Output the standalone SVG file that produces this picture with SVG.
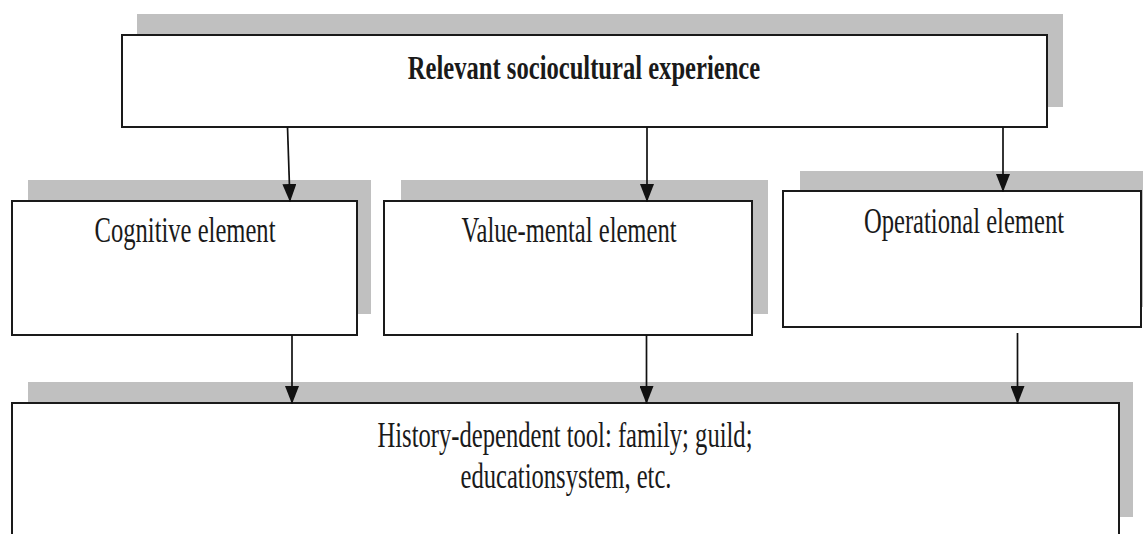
<svg xmlns="http://www.w3.org/2000/svg" width="1143" height="534" viewBox="0 0 1143 534">
<style>
.shadow{fill:#c0c0c0}
.box{fill:#fff;stroke:#1a1a1a;stroke-width:2}
.t{font-family:"Liberation Serif","Times New Roman",serif;font-size:24.6px;fill:#1a1a1a;text-anchor:middle}
.b{font-weight:bold}
.conn{stroke:#111;stroke-width:1.7;fill:none}
</style>
<defs>
<marker id="arr" markerUnits="userSpaceOnUse" markerWidth="14" markerHeight="18" viewBox="0 0 14 18" refX="7" refY="17" orient="auto-start-reverse">
<path d="M0,0 L14,0 L7,18 Z" fill="#111" transform="rotate(-90 7 9)"/>
</marker>
<marker id="ah" markerUnits="userSpaceOnUse" markerWidth="18" markerHeight="14" viewBox="0 0 18 14" refX="18" refY="7" orient="auto">
<path d="M0,0 L18,7 L0,14 Z" fill="#111"/>
</marker>
</defs>
<g id="node-top">
<rect class="shadow" x="137" y="14" width="926" height="93"/>
<rect class="box" x="122" y="35" width="925" height="92"/>
<text class="t b" transform="translate(584,79) scale(1,1.38)">Relevant sociocultural experience</text>
</g>
<g id="node-cognitive">
<rect class="shadow" x="28" y="180" width="343" height="134"/>
<rect class="box" x="12" y="201" width="345" height="134"/>
<text class="t" transform="translate(185,242) scale(1,1.42)">Cognitive element</text>
</g>
<g id="node-value">
<rect class="shadow" x="401" y="180" width="367" height="134"/>
<rect class="box" x="384" y="201" width="368" height="134"/>
<text class="t" transform="translate(569,242) scale(1,1.42)">Value-mental element</text>
</g>
<g id="node-operational">
<rect class="shadow" x="800" y="171" width="343" height="136"/>
<rect class="box" x="783" y="191" width="358" height="136"/>
<text class="t" transform="translate(964,233) scale(1,1.42)">Operational element</text>
</g>
<g id="node-tool">
<rect class="shadow" x="28" y="382" width="1105" height="135"/>
<rect class="box" x="12" y="403" width="1107" height="140"/>
<text class="t" transform="translate(565,447) scale(1,1.42)">History-dependent tool: family; guild;</text>
<text class="t" transform="translate(566,488) scale(1,1.42)">educationsystem, etc.</text>
</g>
<g id="connectors">
<line class="conn" x1="287.5" y1="127" x2="290" y2="202" marker-end="url(#ah)"/>
<line class="conn" x1="647" y1="127" x2="647" y2="202" marker-end="url(#ah)"/>
<line class="conn" x1="1003" y1="127" x2="1003" y2="192" marker-end="url(#ah)"/>
<line class="conn" x1="292" y1="335" x2="292" y2="404" marker-end="url(#ah)"/>
<line class="conn" x1="646.5" y1="335" x2="646.5" y2="404" marker-end="url(#ah)"/>
<line class="conn" x1="1017.5" y1="333" x2="1017.5" y2="404" marker-end="url(#ah)"/>
</g>
</svg>
